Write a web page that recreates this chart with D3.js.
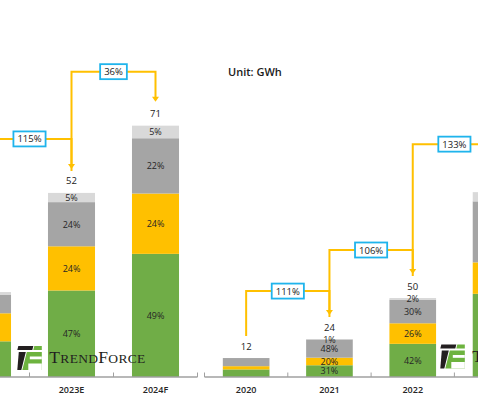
<!DOCTYPE html>
<html>
<head>
<meta charset="utf-8">
<script src="https://cdn.jsdelivr.net/npm/d3@7"></script>
<style>
  body { margin: 0; background: #fff; }
  svg { display: block; font-family: "Open Sans", sans-serif; }
</style>
</head>
<body>
<div class="chart_container"></div>
<script>
// left panel (cut off on its left side)
var leftYears = ["2022", "2023E", "2024F"];
var leftTotals = [24, 52, 71];
var leftGreen = [42, 47, 49];
var leftYellow = [33, 24, 24];
var leftGray = [22, 24, 22];
var leftLight = [3, 5, 5];
var leftShowText = [false, true, true];
var leftGrowth = ["115%", "36%"];

// right panel (cut off on its right side)
var rightYears = ["2020", "2021", "2022", "2023"];
var rightTotals = [12, 24, 50, 117];
var rightGreen = [40, 31, 42, 45];
var rightYellow = [17, 20, 26, 17];
var rightGray = [43, 48, 30, 33];
var rightLight = [0, 1, 2, 5];
var rightShowText = [true, true, true, false];
var rightShowPct = [false, true, true, false];
var rightGrowth = ["111%", "106%", "133%"];

var keys = ["green", "yellow", "gray", "light"];
var colors = {green: "#70AD47", yellow: "#FFC000", gray: "#A5A5A5", light: "#D9D9D9"};
var baseY = 377;

var svg = d3.select(".chart_container").append("svg")
    .attr("width", 478)
    .attr("height", 399);

svg.append("text")
    .attr("x", 228).attr("y", 75.5)
    .style("font-size", "11px")
    .style("font-weight", 600)
    .style("fill", "#1a1a1a")
    .text("Unit: GWh");

function buildRows(years, totals, g, yl, gr, li) {
    return years.map(function(y, i) {
        return {
            year: y, total: totals[i],
            pct: {green: g[i], yellow: yl[i], gray: gr[i], light: li[i]},
            green: totals[i] * g[i] / 100,
            yellow: totals[i] * yl[i] / 100,
            gray: totals[i] * gr[i] / 100,
            light: totals[i] * li[i] / 100
        };
    });
}

function drawPanel(rows, x, y, showText, showPct, growth, axisFrom, axisTo, levelOff) {
    var layer = svg.append("g");
    var series = d3.stack().keys(keys)(rows);

    series.forEach(function(s) {
        layer.selectAll(null)
            .data(s)
            .enter().append("rect")
                .attr("x", d => x(d.data.year))
                .attr("width", x.bandwidth())
                .attr("y", d => y(d[1]))
                .attr("height", d => y(d[0]) - y(d[1]))
                .style("fill", colors[s.key]);
    });

    series.forEach(function(s) {
        layer.selectAll(null)
            .data(s.filter((d, i) => showPct[i] && d.data.pct[s.key] > 0))
            .enter().append("text")
                .attr("x", d => x(d.data.year) + x.bandwidth() / 2)
                .attr("y", d => (y(d[0]) + y(d[1])) / 2 + 3.3)
                .attr("text-anchor", "middle")
                .style("font-size", "9px")
                .style("fill", "#262626")
                .text(d => d.data.pct[s.key] + "%");
    });

    var shown = rows.filter((d, i) => showText[i]);

    // totals
    layer.selectAll(null)
        .data(shown)
        .enter().append("text")
            .attr("x", d => x(d.year) + x.bandwidth() / 2)
            .attr("y", d => y(d.total) - 8.5)
            .attr("text-anchor", "middle")
            .style("font-size", "9.5px")
            .style("fill", "#1a1a1a")
            .text(d => d.total);

    // axis
    layer.append("line")
        .attr("x1", axisFrom).attr("x2", axisTo)
        .attr("y1", baseY).attr("y2", baseY)
        .style("stroke", "#A0A0A0")
        .style("stroke-width", 1.5);
    var step = x.step();
    d3.range(rows.length + 1).forEach(function(i) {
        var tx = x.range()[0] + i * step;
        layer.append("line")
            .attr("x1", tx).attr("x2", tx)
            .attr("y1", baseY - 4.5).attr("y2", baseY)
            .style("stroke", "#A0A0A0")
            .style("stroke-width", 1);
    });
    layer.selectAll(null)
        .data(shown)
        .enter().append("text")
            .attr("x", d => x(d.year) + x.bandwidth() / 2)
            .attr("y", 392.5)
            .attr("text-anchor", "middle")
            .style("font-size", "9px")
            .style("font-weight", 600)
            .style("fill", "#262626")
            .text(d => d.year);

    // growth connectors
    var cx = d => x(d.year) + x.bandwidth() / 2;
    growth.forEach(function(label, i) {
        var a = rows[i], b = rows[i + 1];
        var level = y(Math.max(a.total, b.total)) - levelOff;
        var tip = y(b.total) - 24;
        layer.append("path")
            .attr("d", "M" + cx(a) + "," + (y(a.total) - 22) + "V" + level + "H" + cx(b) + "V" + (tip - 4))
            .style("fill", "none")
            .style("stroke", "#FFC000")
            .style("stroke-width", 2);
        layer.append("path")
            .attr("d", "M" + (cx(b) - 3.5) + "," + (tip - 5) + "L" + (cx(b) + 3.5) + "," + (tip - 5) + "L" + cx(b) + "," + tip + "Z")
            .style("fill", "#FFC000");
    });
    growth.forEach(function(label, i) {
        var a = rows[i], b = rows[i + 1];
        var level = y(Math.max(a.total, b.total)) - levelOff;
        var mx = (cx(a) + cx(b)) / 2;
        var box = layer.append("rect");
        var t = layer.append("text")
            .attr("x", mx).attr("y", level + 3.5)
            .attr("text-anchor", "middle")
            .style("font-size", "9.5px")
            .style("fill", "#1a1a1a")
            .text(label);
        var w = t.node().getComputedTextLength() + 8;
        box.attr("x", mx - w / 2).attr("y", level - 7.5)
            .attr("width", w).attr("height", 15)
            .style("fill", "#fff")
            .style("stroke", "#1FB4EC")
            .style("stroke-width", 1.8);
    });
}

var xL = d3.scaleBand().domain(leftYears).range([-54.5, 197.5]).paddingInner(0.44).paddingOuter(0.22);
var yL = d3.scaleLinear().domain([0, 100]).range([baseY, 23]);
var xR = d3.scaleBand().domain(rightYears).range([204.5, 537.7]).paddingInner(0.44).paddingOuter(0.22);
var yR = d3.scaleLinear().domain([0, 100]).range([baseY, 219]);

drawPanel(buildRows(leftYears, leftTotals, leftGreen, leftYellow, leftGray, leftLight),
    xL, yL, leftShowText, leftShowText, leftGrowth, 0, 197.5, 54);
drawPanel(buildRows(rightYears, rightTotals, rightGreen, rightYellow, rightGray, rightLight),
    xR, yR, rightShowText, rightShowPct, rightGrowth, 204.5, 478, 48);

// TrendForce watermark logo
function logo(x, y, full) {
    var g = svg.append("g").attr("transform", "translate(" + x + "," + y + ")");
    g.append("path").attr("d", "M1,0H16L15,4H0Z").style("fill", "#231f20");
    g.append("path").attr("d", "M17,0H24.5V4H16Z").style("fill", "#6DB33F");
    g.append("path").attr("d", "M1.5,6H8.5L4,24H0Z").style("fill", "#231f20");
    g.append("path").attr("d", "M9.5,6H24.5V24H5Z").style("fill", "#6DB33F");
    g.append("rect").attr("x", 12.5).attr("y", 10.5).attr("width", 12).attr("height", 2.8).style("fill", "#fff");
    g.append("rect").attr("x", 11).attr("y", 17.5).attr("width", 13.5).attr("height", 6.5).style("fill", "#fff");
    var t = g.append("text")
        .attr("x", 32).attr("y", 17.3)
        .style("font-family", "'Liberation Serif', serif")
        .style("fill", "#231f20");
    if (full) {
        t.attr("textLength", 96).attr("lengthAdjust", "spacing");
        t.append("tspan").style("font-size", "17.5px").text("T");
        t.append("tspan").style("font-size", "13.5px").text("REND");
        t.append("tspan").style("font-size", "17.5px").text("F");
        t.append("tspan").style("font-size", "13.5px").text("ORCE");
    } else {
        // only the first letter shows before the window edge
        t.append("tspan").style("font-size", "17.5px").text("T");
    }
}
logo(17.3, 346, true);
logo(440.3, 344.5, false);
</script>
</body>
</html>
